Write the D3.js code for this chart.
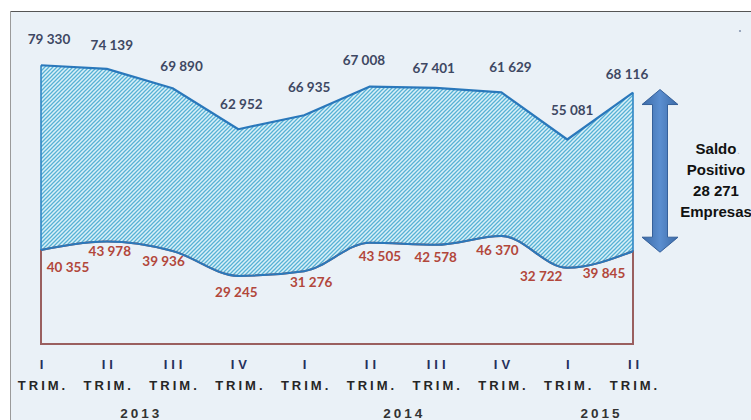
<!DOCTYPE html>
<html>
<head>
<meta charset="utf-8">
<script src="https://cdn.jsdelivr.net/npm/d3@7"></script>
<style>
  html, body { margin: 0; padding: 0; background: #fff; }
  svg { display: block; }
</style>
</head>
<body>
<svg id="chart" width="751" height="420"></svg>
<script>
// trimestres y años
const quarters = ["I", "II", "III", "IV", "I", "II", "III", "IV", "I", "II"];
const years = ["2013", "2013", "2013", "2013", "2014", "2014", "2014", "2014", "2015", "2015"];

// serie superior (apiladas sobre la inferior) y serie inferior
const altas = [79330, 74139, 69890, 62952, 66935, 67008, 67401, 61629, 55081, 68116];
const bajas = [40355, 43978, 39936, 29245, 31276, 43505, 42578, 46370, 32722, 39845];

const saldoLines = ["Saldo", "Positivo", "28 271", "Empresas"];

// pequeños ajustes de las etiquetas de valor
const topDx = [8, 5, 9, 3, 5, -6, -2, 9, 5, -6];
const topDy = [-26, -24, -22, -25, -28, -26, -20, -25, -29, -18];
const lowDx = [27, 3, -9, -2, 7, 10, 0, -4, -26, -29];
const lowDy = [17, 10, 10, 16, 11, 14, 12, 14, 8, 22];

const fmt = d3.formatLocale({ decimal: ",", thousands: " ", grouping: [3], currency: ["", "€"] }).format(",d");

const svg = d3.select("#chart");
const ids = quarters.map((q, i) => i);

const data = ids.map((i) => ({
  i,
  q: quarters[i],
  year: years[i],
  low: bajas[i],
  top: bajas[i] + altas[i],
  alta: altas[i],
  baja: bajas[i],
}));

const x = d3.scalePoint().domain(ids).range([41, 633]);
const y = d3.scaleLinear().domain([0, 120000]).range([344, 64.5]);

// marco
svg.append("rect")
  .attr("x", 10).attr("y", 11).attr("width", 760).attr("height", 420)
  .attr("fill", "#eaf1f7");
svg.append("line")
  .attr("x1", 10).attr("x2", 751).attr("y1", 11.5).attr("y2", 11.5)
  .attr("stroke", "#555").attr("stroke-width", 1.2);
svg.append("line")
  .attr("x1", 10.5).attr("x2", 10.5).attr("y1", 11).attr("y2", 420)
  .attr("stroke", "#9a9a9a").attr("stroke-width", 1);
svg.append("circle").attr("cx", 740).attr("cy", 31).attr("r", 1.1).attr("fill", "#8797b0");

const defs = svg.append("defs");
const pat = defs.append("pattern")
  .attr("id", "hatch")
  .attr("width", 4).attr("height", 4)
  .attr("patternUnits", "userSpaceOnUse");
pat.append("rect").attr("width", 4).attr("height", 4).attr("fill", "#d9f0f8");
pat.append("path")
  .attr("d", "M-1,1 l2,-2 M0,4 l4,-4 M3,5 l2,-2")
  .attr("stroke", "#55b1d5").attr("stroke-width", 1.25);

const arrowGrad = defs.append("linearGradient").attr("id", "arrowGrad")
  .attr("x1", "0").attr("x2", "1").attr("y1", "0").attr("y2", "0");
arrowGrad.append("stop").attr("offset", "0%").attr("stop-color", "#3c6aa6");
arrowGrad.append("stop").attr("offset", "50%").attr("stop-color", "#5a8ed0");
arrowGrad.append("stop").attr("offset", "100%").attr("stop-color", "#3c6aa6");

// área rayada: de la base hasta la serie superior
svg.append("path")
  .datum(data)
  .attr("d", d3.area().x((d) => x(d.i)).y0(y(0)).y1((d) => y(d.top)))
  .attr("fill", "url(#hatch)");

// área inferior tapa la parte baja
const lowCurve = d3.curveMonotoneX;
svg.append("path")
  .datum(data)
  .attr("d", d3.area().curve(lowCurve).x((d) => x(d.i)).y0(y(0)).y1((d) => y(d.low)))
  .attr("fill", "#eaf1f7")
  .attr("stroke", "#9a5f5f")
  .attr("stroke-width", 2);

// lados de la banda
const first = data[0], last = data[data.length - 1];
svg.append("g")
  .selectAll("line")
  .data([first, last])
  .join("line")
  .attr("x1", (d) => x(d.i)).attr("x2", (d) => x(d.i))
  .attr("y1", (d) => y(d.top)).attr("y2", (d) => y(d.low))
  .attr("stroke", "#2f86c4").attr("stroke-width", 1.6);

svg.append("path")
  .datum(data)
  .attr("d", d3.line().curve(lowCurve).x((d) => x(d.i)).y((d) => y(d.low)))
  .attr("fill", "none")
  .attr("stroke", "#2a78bb")
  .attr("stroke-width", 2);

svg.append("path")
  .datum(data)
  .attr("d", d3.line().x((d) => x(d.i)).y((d) => y(d.top)))
  .attr("fill", "none")
  .attr("stroke", "#2a78bb")
  .attr("stroke-width", 2.2)
  .attr("stroke-linejoin", "round");

// etiquetas de valor
svg.append("g")
  .selectAll("text")
  .data(data)
  .join("text")
  .attr("x", (d) => x(d.i) + topDx[d.i])
  .attr("y", (d) => y(d.top) + topDy[d.i])
  .attr("dy", "0.35em")
  .attr("text-anchor", "middle")
  .style("font", "bold 13.5px Lato, sans-serif")
  .attr("fill", "#3e4863")
  .text((d) => fmt(d.alta));

svg.append("g")
  .selectAll("text")
  .data(data)
  .join("text")
  .attr("x", (d) => x(d.i) + lowDx[d.i])
  .attr("y", (d) => y(d.low) + lowDy[d.i])
  .attr("dy", "0.35em")
  .attr("text-anchor", "middle")
  .style("font", "bold 13.5px Lato, sans-serif")
  .attr("fill", "#b2473b")
  .text((d) => fmt(d.baja));

// eje X
const axis = svg.append("g")
  .attr("transform", "translate(0,355)")
  .call(d3.axisBottom(x).tickSize(0).tickFormat(""));
axis.select(".domain").remove();
axis.selectAll(".tick").each(function (i) {
  const t = d3.select(this);
  t.append("text")
    .attr("y", 14).attr("dx", 2)
    .attr("text-anchor", "middle")
    .style("font", "bold 13px 'Liberation Sans', Arial, sans-serif")
    .style("letter-spacing", "4px")
    .attr("fill", "#25305c")
    .text(quarters[i]);
  t.append("text")
    .attr("y", 35).attr("dx", 1.5)
    .attr("text-anchor", "middle")
    .style("font", "bold 13px 'Liberation Sans', Arial, sans-serif")
    .style("letter-spacing", "3px")
    .attr("fill", "#262626")
    .text("TRIM.");
});

const yearGroups = d3.groups(data, (d) => d.year);
svg.append("g")
  .selectAll("text")
  .data(yearGroups)
  .join("text")
  .attr("x", (g) => d3.mean(g[1], (d) => x(d.i)) + 1.5)
  .attr("y", 418)
  .attr("text-anchor", "middle")
  .style("font", "bold 13.5px 'Liberation Sans', Arial, sans-serif")
  .style("letter-spacing", "3px")
  .attr("fill", "#333")
  .text((g) => g[0]);

// flecha doble del saldo
const ax = 660, shaft = 7.5, head = 18, headLen = 15;
const aTop = y(last.top) - 3, aBot = y(last.low) + 1;
svg.append("path")
  .attr("d", [
    "M", ax, aTop,
    "L", ax + head, aTop + headLen,
    "L", ax + shaft, aTop + headLen,
    "L", ax + shaft, aBot - headLen,
    "L", ax + head, aBot - headLen,
    "L", ax, aBot,
    "L", ax - head, aBot - headLen,
    "L", ax - shaft, aBot - headLen,
    "L", ax - shaft, aTop + headLen,
    "L", ax - head, aTop + headLen,
    "Z",
  ].join(" "))
  .attr("fill", "url(#arrowGrad)")
  .attr("stroke", "#35609a")
  .attr("stroke-width", 1);

svg.append("g")
  .selectAll("text")
  .data(saldoLines)
  .join("text")
  .attr("x", 716)
  .attr("y", (d, i) => 154 + i * 21)
  .attr("text-anchor", "middle")
  .style("font", "bold 15px 'Liberation Sans', Arial, sans-serif")
  .attr("fill", "#111")
  .text((d) => d);
svg.append("text")
  .attr("x", 737).attr("y", 154)
  .style("font", "10px 'Liberation Sans', Arial, sans-serif")
  .attr("fill", "#aab4c4")
  .text(".");
</script>
</body>
</html>
